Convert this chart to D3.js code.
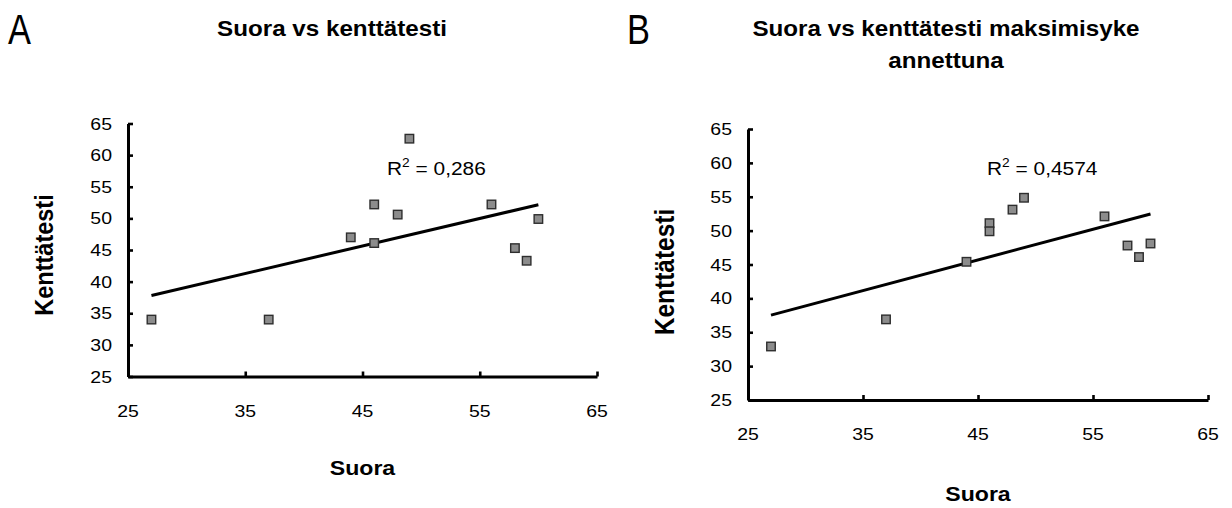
<!DOCTYPE html>
<html>
<head>
<meta charset="utf-8">
<script src="https://cdn.jsdelivr.net/npm/d3@7"></script>
<style>
  html, body { margin: 0; padding: 0; background: #fff; }
  svg { display: block; }
  text { font-family: "Liberation Sans", Arial, sans-serif; fill: #000; }
</style>
</head>
<body>
<svg id="chart" width="1232" height="508"></svg>
<script>
// ---- Data ----
const suoraA   = [27, 37, 44, 46, 46, 48, 49, 56, 58, 59, 60];
const kenttaA  = [34, 34, 47, 52.2, 46.1, 50.6, 62.6, 52.2, 45.3, 43.3, 49.9];
const suoraB   = [27, 37, 44, 46, 46, 48, 49, 56, 58, 59, 60];
const kenttaB  = [32.9, 36.9, 45.4, 51.1, 49.9, 53.1, 54.85, 52.1, 47.8, 46.1, 48.1];
const xTicks   = [25, 35, 45, 55, 65];
const yTicks   = [25, 30, 35, 40, 45, 50, 55, 60, 65];
const panelLetters = ["A", "B"];
const titlesA  = ["Suora vs kenttätesti"];
const titlesB  = ["Suora vs kenttätesti maksimisyke", "annettuna"];
const r2Values = ["0,286", "0,4574"];
const xLabel   = "Suora";
const yLabel   = "Kenttätesti";

const SX = 1.18; // horizontal stretch of the tick digits in the reference

const svg = d3.select("#chart");

function linReg(xs, ys) {
  const n = xs.length;
  const mx = d3.mean(xs), my = d3.mean(ys);
  let sxy = 0, sxx = 0;
  for (let i = 0; i < n; i++) { sxy += (xs[i]-mx)*(ys[i]-my); sxx += (xs[i]-mx)**2; }
  const b = sxy / sxx;
  return { b, a: my - b*mx };
}

function drawPanel(cfg) {
  const g = svg.append("g");
  const x = d3.scaleLinear().domain([25, 65]).range([cfg.left, cfg.right]);
  const y = d3.scaleLinear().domain([25, 65]).range([cfg.bottom, cfg.top]);

  // panel letter
  g.append("text")
    .attr("transform", `translate(${cfg.letterX},${cfg.letterY}) scale(0.82,1)`)
    .attr("font-size", 42)
    .text(cfg.letter);

  // title
  cfg.titles.forEach((t, i) => {
    g.append("text")
      .attr("transform", `translate(${cfg.titleX},${cfg.titleY + i*cfg.titleLH}) scale(1.1,1)`)
      .attr("text-anchor", "middle")
      .attr("font-size", 22)
      .attr("font-weight", "bold")
      .text(t);
  });

  // axes
  const yAxis = d3.axisLeft(y).tickValues(yTicks).tickSize(-5).tickSizeOuter(0).tickFormat("");
  const xAxis = d3.axisBottom(x).tickValues(xTicks).tickSize(-5).tickSizeOuter(0).tickFormat("");
  const ya = g.append("g").attr("transform", `translate(${cfg.left},0)`).call(yAxis);
  const xa = g.append("g").attr("transform", `translate(0,${cfg.bottom})`).call(xAxis);
  [ya, xa].forEach(a => {
    a.select(".domain").attr("stroke", "#000").attr("stroke-width", 3);
    a.selectAll(".tick line").attr("stroke", "#000").attr("stroke-width", 2.6);
  });

  // tick labels
  g.selectAll(null).data(yTicks).enter().append("text")
    .attr("transform", d => `translate(${cfg.left - 16},${y(d) + 6}) scale(${SX},1)`)
    .attr("text-anchor", "end")
    .attr("font-size", 16.5)
    .text(d => d);
  g.selectAll(null).data(xTicks).enter().append("text")
    .attr("transform", d => `translate(${x(d)},${cfg.bottom + 40}) scale(${SX},1)`)
    .attr("text-anchor", "middle")
    .attr("font-size", 16.5)
    .text(d => d);

  // axis titles
  g.append("text")
    .attr("transform", `translate(${(cfg.left + cfg.right)/2},${cfg.xTitleY}) scale(1.1,1)`)
    .attr("text-anchor", "middle")
    .attr("font-size", 21)
    .attr("font-weight", "bold")
    .text(xLabel);
  g.append("text")
    .attr("transform", `translate(${cfg.yTitleX},${cfg.yTitleY}) rotate(-90) scale(1,1.1)`)
    .attr("text-anchor", "middle")
    .attr("font-size", cfg.yTitleSize)
    .attr("font-weight", "bold")
    .text(yLabel);

  // trendline
  const xs = cfg.xs, ys = cfg.ys;
  const r = linReg(xs, ys);
  const x0 = d3.min(xs), x1 = d3.max(xs);
  g.append("line")
    .attr("x1", x(x0)).attr("y1", y(r.a + r.b*x0))
    .attr("x2", x(x1)).attr("y2", y(r.a + r.b*x1))
    .attr("stroke", "#000").attr("stroke-width", 3);

  // points
  const s = 8.5;
  g.selectAll(null).data(xs.map((v, i) => [v, ys[i]])).enter().append("rect")
    .attr("x", d => x(d[0]) - s/2).attr("y", d => y(d[1]) - s/2)
    .attr("width", s).attr("height", s)
    .attr("fill", "#8c8c8c").attr("stroke", "#2e2e2e").attr("stroke-width", 1.4);

  // R^2 label
  const t = g.append("text")
    .attr("transform", `translate(${cfg.r2X},${cfg.r2Y}) scale(1.1,1)`)
    .attr("font-size", 19);
  t.append("tspan").text("R");
  t.append("tspan").attr("font-size", 12.5).attr("dy", -8).text("2");
  t.append("tspan").attr("dy", 8).text(" = " + cfg.r2);
}

drawPanel({
  letter: panelLetters[0], letterX: 8, letterY: 44,
  titles: titlesA, titleX: 332, titleY: 36, titleLH: 32,
  left: 128, right: 597, top: 123.5, bottom: 376.5,
  xTitleY: 475, yTitleX: 53, yTitleY: 255, yTitleSize: 23.5,
  xs: suoraA, ys: kenttaA,
  r2: r2Values[0], r2X: 387, r2Y: 175
});

drawPanel({
  letter: panelLetters[1], letterX: 627, letterY: 44,
  titles: titlesB, titleX: 946, titleY: 36, titleLH: 32,
  left: 748, right: 1208, top: 129, bottom: 400,
  xTitleY: 501, yTitleX: 674, yTitleY: 272, yTitleSize: 24.5,
  xs: suoraB, ys: kenttaB,
  r2: r2Values[1], r2X: 987, r2Y: 175
});
</script>
</body>
</html>
